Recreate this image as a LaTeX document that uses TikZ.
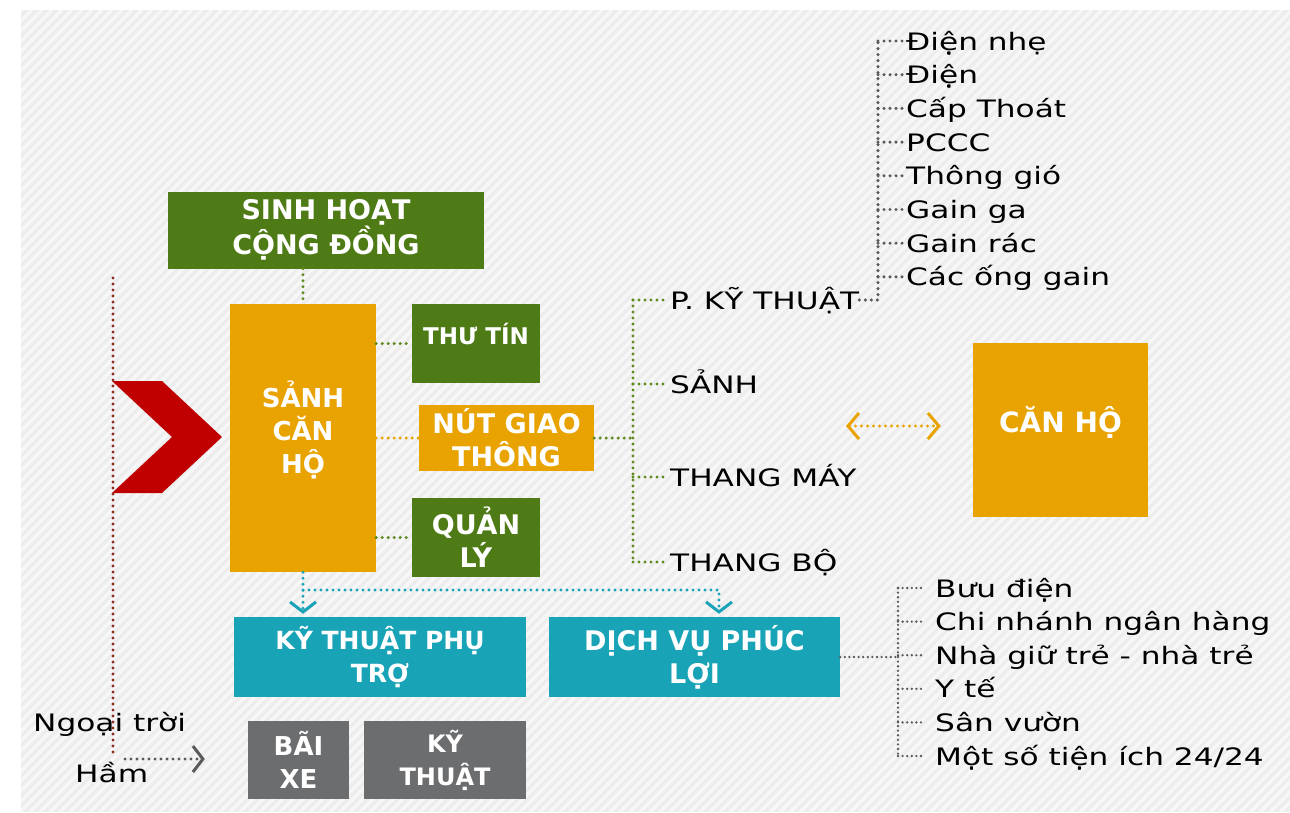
\documentclass[tikz,border=0pt]{standalone}
\usepackage{fontspec}
\setmainfont{DejaVu Sans}[FakeStretch=1.3]
\newfontfamily\boxface{DejaVu Sans}
\usetikzlibrary{arrows.meta}

\definecolor{leaf}{HTML}{4E7B16}
\definecolor{amber}{HTML}{E9A300}
\definecolor{sea}{HTML}{19A3B7}
\definecolor{slate}{HTML}{6C6D6F}
\definecolor{brick}{HTML}{C00000}
\definecolor{wine}{HTML}{8E2A20}
\definecolor{moss}{HTML}{5E8A1E}
\definecolor{ink}{HTML}{5A5A5A}
\definecolor{paper}{HTML}{EDEDED}
\definecolor{streak}{HTML}{F7F7F7}

\newcommand\itemfont{\fontsize{24}{30}\selectfont}
\newcommand\boxfont[1]{\fontsize{#1}{33}\selectfont\boxface\bfseries}

\begin{document}
\begin{tikzpicture}[x=1pt, y=-1pt,
  box/.style={rectangle, inner sep=0pt, text=white, align=center},
  leafbox/.style={box, fill=leaf},
  amberbox/.style={box, fill=amber},
  seabox/.style={box, fill=sea},
  slatebox/.style={box, fill=slate},
  item/.style={anchor=west, inner sep=0pt, text height=18pt, text depth=0pt, font=\itemfont},
  dots/.style={line width=3.4pt, line cap=round, dash pattern=on 0pt off 6pt},
  finedots/.style={line width=2.6pt, line cap=round, dash pattern=on 0pt off 4.6pt},
  barb/.style={-{Straight Barb[length=10pt,width=26pt,line width=3pt]}},
  twin/.style={{Straight Barb[length=11pt,width=26pt,line width=3pt]}-{Straight Barb[length=11pt,width=26pt,line width=3pt]}}]
  \useasboundingbox (0,0) rectangle (1290,812);
  \fill[white] (0,0) rectangle (1290,812);
  \fill[paper] (21,10) rectangle (1290,812);
  \begin{scope}
    \clip (21,10) rectangle (1290,812);
    \foreach \s in {-800,-790,...,1290}
      \draw[streak, line width=3.5pt] (\s,812) -- (\s+802,10);
  \end{scope}

  % boxes
  \node[leafbox, minimum width=316pt, minimum height=77pt, font=\boxfont{27}] (commons) at (326,230) {SINH HOẠT\\CỘNG ĐỒNG};
  \node[amberbox, minimum width=146pt, minimum height=268pt, font=\boxfont{26}] (lobby) at (303,438) {SẢNH\\CĂN\\HỘ\\[-12pt]};
  \node[leafbox, minimum width=128pt, minimum height=79pt, text depth=20pt, font=\boxfont{23}] (mail) at (476,343.5) {THƯ TÍN};
  \node[amberbox, minimum width=175pt, minimum height=66pt, font=\boxfont{27}] (hub) at (506.5,438) {NÚT GIAO\\THÔNG};
  \node[leafbox, minimum width=128pt, minimum height=79pt, font=\boxfont{27}] (office) at (476,537.5) {QUẢN\\LÝ};
  \node[seabox, minimum width=292pt, minimum height=80pt, font=\boxfont{25}] (support) at (380,657) {KỸ THUẬT PHỤ\\TRỢ};
  \node[seabox, minimum width=291pt, minimum height=80pt, font=\boxfont{27}] (service) at (694.5,657) {DỊCH VỤ PHÚC\\LỢI};
  \node[slatebox, minimum width=101pt, minimum height=78pt, font=\boxfont{26}] (parking) at (298.5,760) {BÃI\\XE};
  \node[slatebox, minimum width=162pt, minimum height=78pt, font=\boxfont{24}] (plant) at (445,760) {KỸ\\THUẬT};
  \node[amberbox, minimum width=175pt, minimum height=174pt, text depth=22pt, font=\boxfont{28}] (flat) at (1060.5,430) {CĂN HỘ};

  % entrance
  \fill[brick] (112,381) -- (162,381) -- (222,437) -- (162,493) -- (112,493) -- (172,437) -- cycle;
  \draw[dots, wine] (113,278) -- (113,756);

  % around the lobby
  \draw[dots, moss] (commons.south -| lobby.north) -- (lobby.north);
  \draw[dots, moss] (lobby.east |- mail.west) -- (mail.west);
  \draw[dots, amber] (lobby.east |- hub.west) -- (hub.west);
  \draw[dots, moss] (lobby.east |- office.west) -- (office.west);

  % traffic node
  \coordinate (trunk) at (633,438);
  \node[item] (techroom) at (670,300) {P. KỸ THUẬT};
  \node[item] (hall) at (670,384) {SẢNH};
  \node[item] (lift) at (670,477) {THANG MÁY};
  \node[item] (stair) at (670,562) {THANG BỘ};
  \draw[dots, moss] (hub.east) -- (trunk);
  \draw[dots, moss] (trunk |- techroom.west) -- (trunk |- stair.west);
  \foreach \n in {techroom,hall,lift,stair}
    \draw[dots, moss, shorten >=3pt] (trunk |- \n.west) -- (\n.west);

  % technical room
  \coordinate (spine) at (878,303);
  \foreach \t [count=\i] in {Điện nhẹ, Điện, Cấp Thoát, PCCC, Thông gió, Gain ga, Gain rác, Các ống gain}
    \node[item] (u\i) at (906,7.3+33.7*\i) {\t};
  \draw[dots, ink] (techroom.east) -- (techroom.east -| spine) -- (spine |- u1.west);
  \foreach \i in {1,...,8}
    \draw[dots, ink, shorten >=2pt] (spine |- u\i.west) -- (u\i.west);

  % apartments
  \coordinate (swap) at (846,426);
  \draw[dots, amber, twin, shorten >=32pt] (swap) -- (swap -| flat.west);

  % services
  \coordinate (fork) at (719,590);
  \draw[dots, sea, barb, shorten >=3pt] (lobby.south) -- (lobby.south |- support.north);
  \draw[dots, sea, barb, shorten >=3pt] (lobby.south |- fork) -- (fork) -- (fork |- service.north);

  \coordinate (rail) at (898,657);
  \foreach \t [count=\i] in {Bưu điện, Chi nhánh ngân hàng, Nhà giữ trẻ - nhà trẻ, Y tế, Sân vườn, Một số tiện ích 24/24}
    \node[item] (v\i) at (935,554.4+33.6*\i) {\t};
  \draw[finedots, ink] (service.east) -- (rail);
  \draw[finedots, ink] (rail |- v1.west) -- (rail |- v6.west);
  \foreach \i in {1,...,6}
    \draw[finedots, ink, shorten >=10pt] (rail |- v\i.west) -- (v\i.west);

  % parking
  \node[item] (outdoor) at (33,722) {Ngoại trời};
  \node[item] (basement) at (75,773) {Hầm};
  \coordinate (gate) at (125,759);
  \draw[dots, ink, barb, shorten >=43pt] (gate) -- (parking.west |- gate);
\end{tikzpicture}
\end{document}
